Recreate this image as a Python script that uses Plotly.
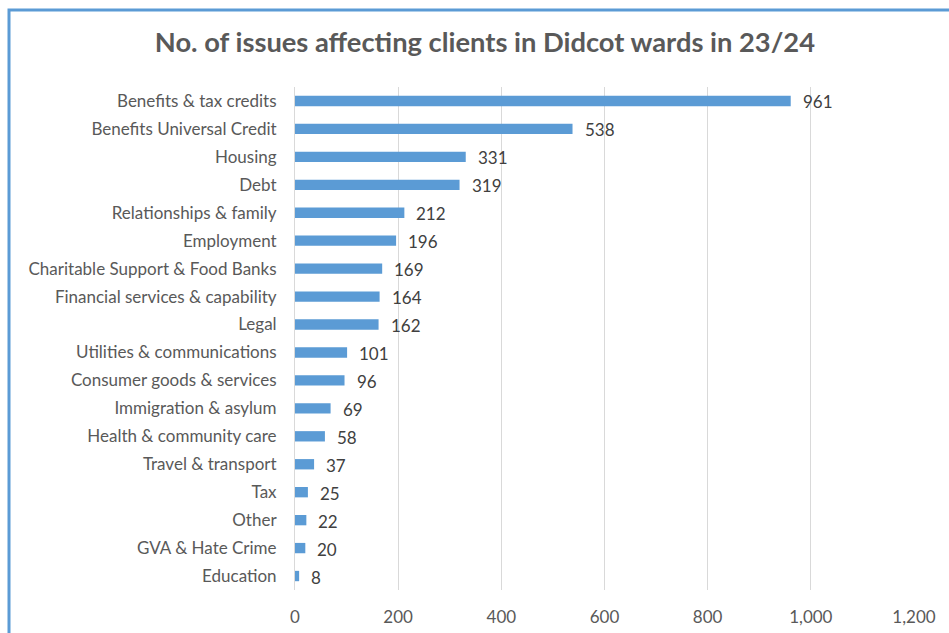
import plotly.graph_objects as go

categories = [
    "Benefits & tax credits", "Benefits Universal Credit", "Housing", "Debt",
    "Relationships & family", "Employment", "Charitable Support & Food Banks",
    "Financial services & capability", "Legal", "Utilities & communications",
    "Consumer goods & services", "Immigration & asylum", "Health & community care",
    "Travel & transport", "Tax", "Other", "GVA & Hate Crime", "Education",
]
values = [961, 538, 331, 319, 212, 196, 169, 164, 162, 101, 96, 69, 58, 37, 25, 22, 20, 8]
tick_vals = [0, 200, 400, 600, 800, 1000, 1200]
tick_text = ["0", "200", "400", "600", "800", "1,000", "1,200"]

FONT = "Lato, 'Open Sans', sans-serif"

fig = go.Figure(go.Bar(
    x=values, y=categories, orientation="h",
    marker=dict(color="#5B9BD5", line=dict(width=0)),
    width=0.37,
    hoverinfo="x+y",
))

annotations = [
    dict(x=v, y=c, xref="x", yref="y", text=str(v), showarrow=False,
         xanchor="left", yanchor="middle", xshift=10, yshift=-1,
         font=dict(size=17, color="#404040", family=FONT))
    for c, v in zip(categories, values)
]

fig.update_layout(
    width=949, height=633,
    margin=dict(l=295, r=35, t=87, b=43, autoexpand=False),
    paper_bgcolor="white", plot_bgcolor="white",
    showlegend=False,
    font=dict(family=FONT, color="#595959", size=17),
    title=dict(text="<b>No. of issues affecting clients in Didcot wards in 23/24</b>",
               x=0.511, xref="container", xanchor="center",
               y=1 - 42 / 633, yref="container", yanchor="middle",
               font=dict(size=27.3, color="#595959", family=FONT)),
    xaxis=dict(range=[0, 1200], tickvals=tick_vals, ticktext=tick_text,
               showgrid=True, gridcolor="#D9D9D9", gridwidth=1,
               zeroline=False, showline=False, automargin=False,
               ticks="outside", ticklen=12, tickcolor="rgba(0,0,0,0)",
               tickfont=dict(size=17, color="#595959")),
    yaxis=dict(autorange="reversed", showgrid=False, zeroline=False,
               showline=True, linecolor="#D9D9D9", linewidth=1, ticks="",
               ticklabelstandoff=14, automargin=False,
               tickfont=dict(size=17, color="#595959")),
    annotations=annotations,
    shapes=[dict(type="rect", xref="paper", yref="paper",
                 x0=(9 - 295) / 619, x1=(960 - 295) / 619,
                 y0=(590 - 650) / 503, y1=(590 - 10) / 503,
                 line=dict(color="#5B9BD5", width=3), fillcolor="rgba(0,0,0,0)",
                 layer="above")],
)

fig.write_html("out.html")
